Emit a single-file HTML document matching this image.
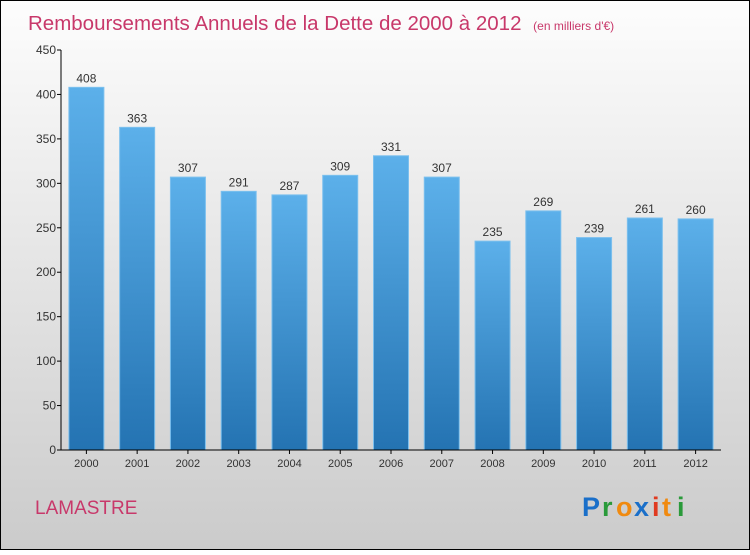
<!DOCTYPE html>
<html><head><meta charset="utf-8"><style>
body{margin:0}
svg text{font-family:"Liberation Sans",sans-serif}
</style></head><body>
<svg width="750" height="550" xmlns="http://www.w3.org/2000/svg">
<defs>
<linearGradient id="bg" x1="0" y1="0" x2="0" y2="1"><stop offset="0" stop-color="#fdfdfd"/><stop offset="1" stop-color="#cbcbcb"/></linearGradient>
<linearGradient id="bar" x1="0" y1="0" x2="0" y2="1"><stop offset="0" stop-color="#5cb0ea"/><stop offset="1" stop-color="#2473b2"/></linearGradient>
</defs>
<rect x="0.5" y="0.5" width="749" height="549" fill="url(#bg)" stroke="#000"/>
<text x="28" y="30" font-size="20.5" fill="#c8386a">Remboursements Annuels de la Dette de 2000 à 2012 <tspan font-size="12" dx="6">(en milliers d'€)</tspan></text>
<text x="35" y="514" font-size="19" fill="#c8386a">LAMASTRE</text>
<g font-size="27" font-weight="bold" font-family="Liberation Sans">
<text x="582" y="516" fill="#1a6fc9">P</text><text x="602" y="516" fill="#2a9a3a">r</text><text x="616" y="516" fill="#f08a10">o</text><text x="634" y="516" fill="#1a6fc9">x</text><text x="652" y="516" fill="#e03a20">i</text><text x="662" y="516" fill="#f08a10">t</text><text x="677" y="516" fill="#2a9a3a">i</text>
</g>
<g id="plot"></g>
</svg>
<script>
const categories=["2000","2001","2002","2003","2004","2005","2006","2007","2008","2009","2010","2011","2012"];
const values=[408,363,307,291,287,309,331,307,235,269,239,261,260];
const yTicks=[0,50,100,150,200,250,300,350,400,450];
const NS="http://www.w3.org/2000/svg";
const g=document.getElementById('plot');
const x0=61,x1=721,yb=450,yt=50,ymax=450;
const y=v=>yb-(v/ymax)*(yb-yt);
const pitch=(x1-x0)/categories.length;
const bx=i=>x0+pitch*(i+0.5);
function el(t,a){const e=document.createElementNS(NS,t);for(const k in a)e.setAttribute(k,a[k]);g.appendChild(e);return e;}
values.forEach((v,i)=>{
 const r=el('rect',{x:bx(i)-17.5,y:y(v),width:35,height:yb-y(v),fill:'url(#bar)',stroke:'#7cc0ee','stroke-width':1});
 
 
 const t=el('text',{x:bx(i),y:y(v)-5,'font-size':12,'text-anchor':'middle',fill:'#333'});
 t.textContent=v;
 
 
 const c=el('text',{x:bx(i),y:467,'font-size':11,'text-anchor':'middle',fill:'#333'});
 c.textContent=categories[i];
 
 
 const tk=el('line',{x1:bx(i),x2:bx(i),y1:yb,y2:yb+4,stroke:'#000'});
 
 
});
yTicks.forEach(v=>{
 const l=el('line',{x1:x0-4,x2:x0,y1:y(v),y2:y(v),stroke:'#000'});
 
 
 const t=el('text',{x:x0-5,y:y(v)+4,'font-size':12,'text-anchor':'end',fill:'#333'});
 t.textContent=v;
 
 
});
const ya=el('line',{x1:x0,x2:x0,y1:yt,y2:yb,stroke:'#000'});


const xa=el('line',{x1:x0,x2:x1,y1:yb,y2:yb,stroke:'#000'});


</script>
</body></html>
